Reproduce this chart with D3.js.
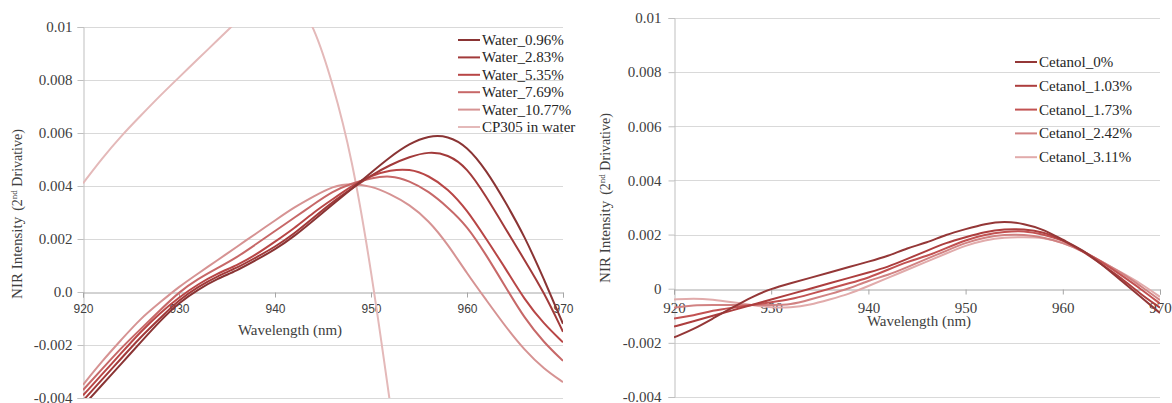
<!DOCTYPE html>
<html>
<head>
<meta charset="utf-8">
<script src="https://cdn.jsdelivr.net/npm/d3@7"></script>
<style>
  html, body { margin: 0; padding: 0; background: #ffffff; }
  svg { display: block; }
</style>
</head>
<body>
<svg id="chart" width="1172" height="403"></svg>
<script>
// Wavelength grid (nm)
const waveNm = [920, 922, 924, 926, 928, 930, 932, 934, 936, 938, 940, 942, 944,
                946, 948, 950, 952, 954, 956, 958, 960, 962, 964, 966, 968, 970];

// Left panel: water content series (2nd derivative NIR intensity)
const waterNames = ["Water_0.96%", "Water_2.83%", "Water_5.35%", "Water_7.69%", "Water_10.77%", "CP305 in water"];
const water096 = [-0.0043, -0.0035, -0.0027, -0.0019, -0.0011, -0.0004, 0.0001, 0.0005, 0.0008, 0.0012, 0.0016, 0.0021, 0.0027,
                  0.0033, 0.0039, 0.0045, 0.0051, 0.0056, 0.0059, 0.0059, 0.0055, 0.0046, 0.0034, 0.0021, 0.0005, -0.0012];
const water283 = [-0.0041, -0.0033, -0.0025, -0.0017, -0.0010, -0.0003, 0.0002, 0.0006, 0.0009, 0.0013, 0.0017, 0.0022, 0.0028,
                  0.0034, 0.0039, 0.0044, 0.0048, 0.0051, 0.0053, 0.0052, 0.0047, 0.0036, 0.0024, 0.0012, 0.0000, -0.0015];
const water535 = [-0.0039, -0.0031, -0.0023, -0.0015, -0.0008, -0.0002, 0.0003, 0.0007, 0.0010, 0.0014, 0.0019, 0.0024, 0.0030,
                  0.0035, 0.0040, 0.0044, 0.0046, 0.00465, 0.0044, 0.0039, 0.0031, 0.0020, 0.0009, -0.0003, -0.0012, -0.0019];
const water769 = [-0.0037, -0.0029, -0.0021, -0.0014, -0.0007, 0.0000, 0.0005, 0.0009, 0.0013, 0.0018, 0.0023, 0.0028, 0.0033,
                  0.0038, 0.0041, 0.0043, 0.0044, 0.0042, 0.0038, 0.0032, 0.0025, 0.0014, 0.0002, -0.0010, -0.0019, -0.0026];
const water1077 = [-0.0035, -0.0026, -0.0018, -0.0010, -0.0004, 0.0002, 0.0007, 0.0012, 0.0017, 0.0022, 0.0027, 0.0032, 0.0036,
                   0.0040, 0.0041, 0.0040, 0.0037, 0.0033, 0.0027, 0.0018, 0.0007, -0.0003, -0.0013, -0.0022, -0.0029, -0.0034];
// CP305 in water, 920–954 nm (leaves the plotted range on both ends)
const cp305 = [0.0041, 0.00505, 0.0059, 0.00665, 0.0074, 0.0081, 0.0088, 0.0095, 0.0102, 0.0109, 0.0114, 0.0112, 0.0101,
               0.0079, 0.0051, 0.0009, -0.0042, -0.0095];
const waterColors = ["#8a3434", "#a23a3a", "#b84646", "#c76868", "#d69393", "#e4b9b9"];

// Right panel: cetanol content series
const cetanolNames = ["Cetanol_0%", "Cetanol_1.03%", "Cetanol_1.73%", "Cetanol_2.42%", "Cetanol_3.11%"];
const cetanol000 = [-0.0018, -0.0015, -0.0011, -0.0007, -0.0003, 0.0000, 0.0002, 0.0004, 0.0006, 0.0008, 0.0010, 0.0012, 0.0015,
                    0.0017, 0.0020, 0.0022, 0.0024, 0.0025, 0.0024, 0.0022, 0.0018, 0.00145, 0.0009, 0.0003, -0.0003, -0.0009];
const cetanol103 = [-0.0014, -0.0012, -0.0010, -0.0008, -0.0006, -0.0004, -0.0002, 0.0000, 0.0002, 0.0004, 0.0006, 0.0008, 0.0011,
                    0.0014, 0.0017, 0.0019, 0.0021, 0.0022, 0.0022, 0.0021, 0.0018, 0.0014, 0.0009, 0.0004, -0.0002, -0.0007];
const cetanol173 = [-0.0011, -0.0010, -0.0008, -0.0007, -0.0006, -0.0005, -0.0004, -0.0002, 0.0000, 0.0002, 0.0004, 0.0007, 0.0010,
                    0.0012, 0.0015, 0.0018, 0.0020, 0.0021, 0.00215, 0.0020, 0.0018, 0.0014, 0.0010, 0.0005, 0.0000, -0.00055];
const cetanol242 = [-0.0007, -0.0006, -0.0006, -0.0006, -0.0006, -0.0006, -0.0006, -0.0004, -0.0002, 0.0000, 0.0003, 0.0005, 0.0008,
                    0.0011, 0.0014, 0.0017, 0.0019, 0.0020, 0.0020, 0.0019, 0.0017, 0.0014, 0.0010, 0.0006, 0.0001, -0.00042];
const cetanol311 = [-0.0004, -0.00035, -0.0004, -0.0005, -0.0006, -0.0007, -0.0007, -0.0006, -0.0004, -0.0002, 0.0001, 0.0004, 0.0007,
                    0.0010, 0.0013, 0.0016, 0.0018, 0.0019, 0.0019, 0.0019, 0.0017, 0.0014, 0.0010, 0.0006, 0.0002, -0.0003];
const cetanolColors = ["#943737", "#ad3e3e", "#c25252", "#d18282", "#e1abab"];

// Axis ticks
const xTicks = [920, 930, 940, 950, 960, 970];
const yTicks = [0.01, 0.008, 0.006, 0.004, 0.002, 0, -0.002, -0.004];
const yTickLabelsLeft = ["0.01", "0.008", "0.006", "0.004", "0.002", "0.0", "-0.002", "-0.004"];
const yTickLabelsRight = ["0.01", "0.008", "0.006", "0.004", "0.002", "0", "-0.002", "-0.004"];

const SERIF = "'Liberation Serif', 'DejaVu Serif', serif";
const SANS = "'Liberation Sans', Arial, sans-serif";
const TEXT = "#404040";

const svg = d3.select("#chart");

function zipSeries(values) {
  return values.map((v, i) => ({ x: waveNm[i], y: v }));
}

function drawPanel(opt) {
  const g = svg.append("g");
  const x = d3.scaleLinear().domain([920, 970]).range([opt.left, opt.right]);
  const y = d3.scaleLinear().domain([-0.004, 0.01]).range([opt.bottom, opt.top]);

  // horizontal gridlines
  g.append("g").selectAll("line").data(yTicks.filter(v => v !== 0)).join("line")
    .attr("x1", opt.left).attr("x2", opt.right)
    .attr("y1", d => Math.round(y(d)) + 0.5).attr("y2", d => Math.round(y(d)) + 0.5)
    .attr("stroke", "#d9d9d9").attr("stroke-width", 1);

  // y axis
  const yAxis = d3.axisLeft(y).tickValues(yTicks)
    .tickFormat((d, i) => opt.yLabels[i]).tickSize(6).tickPadding(opt.yPad);
  const ya = g.append("g").attr("transform", `translate(${opt.left + 0.5},0)`).call(yAxis);
  ya.select(".domain").attr("stroke", "#bfbfbf");
  ya.selectAll(".tick line").attr("stroke", "#bfbfbf");
  ya.selectAll(".tick text").attr("font-family", SERIF).attr("font-size", 15).attr("fill", TEXT);

  // x axis on the zero line
  const xAxis = d3.axisBottom(x).tickValues(xTicks).tickFormat(d3.format("d"))
    .tickSize(5).tickPadding(opt.xPad);
  const xa = g.append("g").attr("transform", `translate(0,${Math.round(y(0)) + 0.5})`).call(xAxis);
  xa.select(".domain").attr("stroke", "#a6a6a6");
  xa.selectAll(".tick line").attr("stroke", "#a6a6a6");
  xa.selectAll(".tick text").attr("font-family", opt.xFont).attr("font-size", opt.xFontSize).attr("fill", TEXT);

  // series lines (smoothed), clipped to the plot area
  const clipId = "clip-" + opt.id;
  svg.append("clipPath").attr("id", clipId).append("rect")
    .attr("x", opt.left).attr("y", opt.top).attr("width", opt.right - opt.left).attr("height", opt.bottom - opt.top);
  const line = d3.line().x(d => x(d.x)).y(d => y(d.y)).curve(d3.curveBasis);
  const lines = g.append("g").attr("clip-path", `url(#${clipId})`);
  opt.series.slice().reverse().forEach((s, k) => {
    const idx = opt.series.length - 1 - k;
    lines.append("path").datum(s).attr("d", line)
      .attr("fill", "none").attr("stroke", opt.colors[idx]).attr("stroke-width", 2)
      .attr("stroke-linejoin", "round");
  });

  // legend
  const lg = g.append("g");
  opt.names.forEach((name, i) => {
    const cy = opt.legendY + i * opt.legendStep;
    lg.append("line").attr("x1", opt.legendX).attr("x2", opt.legendX + 22)
      .attr("y1", cy).attr("y2", cy).attr("stroke", opt.colors[i]).attr("stroke-width", 2);
    lg.append("text").attr("x", opt.legendX + 24).attr("y", cy).attr("dy", "0.33em")
      .attr("font-family", SERIF).attr("font-size", 15).attr("fill", "#262626").text(name);
  });

  // axis titles
  g.append("text").attr("x", opt.xTitleX).attr("y", opt.xTitleY).attr("text-anchor", "middle")
    .attr("font-family", SERIF).attr("font-size", 15).attr("fill", TEXT).text("Wavelength (nm)");

  const yt = g.append("text").attr("transform", `translate(${opt.yTitleX},${opt.yTitleY}) rotate(-90)`)
    .attr("text-anchor", "middle").attr("font-family", SERIF).attr("font-size", 15).attr("fill", TEXT);
  yt.append("tspan").text("NIR Intensity");
  yt.append("tspan").attr("dx", 6).attr("font-size", 14).text("(2");
  yt.append("tspan").attr("font-size", 9).attr("dy", -5).text("nd");
  yt.append("tspan").attr("font-size", 14).attr("dy", 5).text(" Drivative)");
}

drawPanel({
  id: "water", left: 83, right: 563, top: 27, bottom: 398,
  yLabels: yTickLabelsLeft, yPad: 5, xPad: 7, xFont: SANS, xFontSize: 12,
  series: [water096, water283, water535, water769, water1077].map(zipSeries)
    .concat([cp305.map((v, i) => ({ x: waveNm[i], y: v }))]),
  names: waterNames, colors: waterColors,
  legendX: 458, legendY: 40, legendStep: 17.4,
  xTitleX: 290, xTitleY: 335, yTitleX: 22, yTitleY: 214
});

drawPanel({
  id: "cetanol", left: 674, right: 1160, top: 18, bottom: 397,
  yLabels: yTickLabelsRight, yPad: 7, xPad: 8, xFont: SERIF, xFontSize: 15,
  series: [cetanol000, cetanol103, cetanol173, cetanol242, cetanol311].map(zipSeries),
  names: cetanolNames, colors: cetanolColors,
  legendX: 1015, legendY: 62, legendStep: 23.8,
  xTitleX: 919, xTitleY: 326, yTitleX: 610, yTitleY: 198
});
</script>
</body>
</html>
